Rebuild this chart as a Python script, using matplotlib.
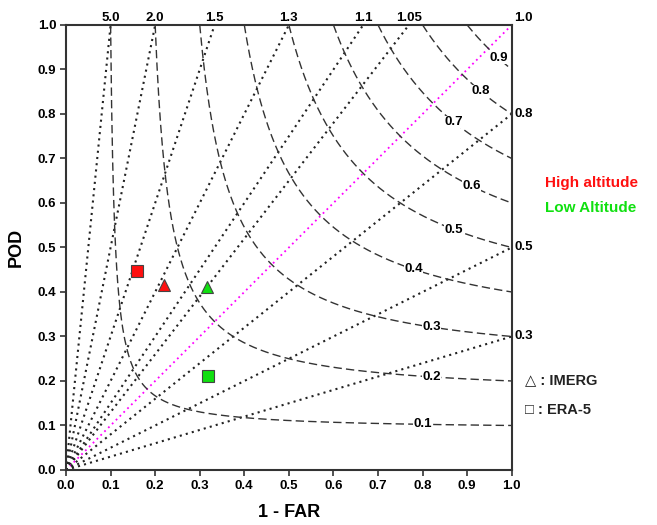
import numpy as np
import matplotlib
matplotlib.use("Agg")
import matplotlib.pyplot as plt

plt.rcParams['font.family'] = ['Liberation Sans', 'DejaVu Sans']
plt.rcParams['font.weight'] = 'bold'

###############################################################################
# Data

# frequency bias lines (POD = bias * SR) and the labels written at their ends
bias_values = [10.0, 5.0, 3.0, 2.0, 1.5, 1.3, 1.0, 0.8, 0.5, 0.3]
top_labels = ["5.0", "2.0", "1.5", "1.3", "1.1", "1.05"]   # as printed on top
right_labels = ["1.0", "0.8", "0.5", "0.3"]

# CSI contours and where their label sits (SR coordinate)
csi_values = [0.1, 0.2, 0.3, 0.4, 0.5, 0.6, 0.7, 0.8, 0.9]
csi_label_sr = [0.80, 0.82, 0.82, 0.78, 0.87, 0.91, 0.87, 0.93, 0.97]

# scores: 1-FAR (success ratio) and POD
regions = ["High altitude", "Low Altitude"]
region_colors = ["#ff1010", "#10e010"]
imerg_sr = [0.220, 0.316]
imerg_pod = [0.416, 0.411]
era5_sr = [0.159, 0.318]
era5_pod = [0.447, 0.211]

###############################################################################
# Figure

fig = plt.figure(figsize=(6.57, 5.25), dpi=100)
ax = fig.add_axes([0.1005, 0.1048, 0.6784, 0.8476])
ax.set_xlim(0, 1)
ax.set_ylim(0, 1)

sr = np.linspace(0.0, 1.0, 400)

# bias lines
for b in bias_values:
    col = "magenta" if b == 1.0 else "#222222"
    lw = 1.3 if b == 1.0 else 1.5
    ax.plot(sr, b * sr, color=col, linestyle=(0, (1, 2)), linewidth=lw,
            zorder=2)

# bias labels on top and right edges
for b, lab in zip(bias_values[:6], top_labels):
    ax.text(1.0 / b, 1.003, lab, ha="center", va="bottom", fontsize=9.5,
            clip_on=False)
for b, lab in zip(bias_values[6:], right_labels):
    dy = 0.015 if b == 1.0 else 0.0
    ax.text(1.006, b + dy, lab, ha="left", va="center", fontsize=9.5,
            clip_on=False)

# CSI contours
for c, lx in zip(csi_values, csi_label_sr):
    x = np.linspace(c, 1.0, 400)
    y = 1.0 / (1.0 / c + 1.0 - 1.0 / x)
    ax.plot(x, y, color="#333333", linestyle=(0, (6, 3)), linewidth=1.0,
            zorder=2)
    ly = 1.0 / (1.0 / c + 1.0 - 1.0 / lx)
    ax.text(lx, ly, "%.1f" % c, ha="center", va="center", fontsize=9.5,
            bbox=dict(facecolor="white", edgecolor="none", pad=0.3), zorder=3)

# points
for i in range(len(regions)):
    ax.plot(imerg_sr[i], imerg_pod[i], marker="^", markersize=9,
            color=region_colors[i], markeredgecolor="#444444",
            markeredgewidth=0.8, linestyle="none", zorder=5)
    ax.plot(era5_sr[i], era5_pod[i], marker="s", markersize=8.5,
            color=region_colors[i], markeredgecolor="#444444",
            markeredgewidth=0.8, linestyle="none", zorder=5)

# axes styling
ticks = np.round(np.arange(0, 1.01, 0.1), 1)
ax.set_xticks(ticks)
ax.set_yticks(ticks)
ax.set_xticklabels(["%.1f" % t for t in ticks], fontsize=9.5)
ax.set_yticklabels(["%.1f" % t for t in ticks], fontsize=9.5)
ax.tick_params(direction="out", length=4, width=1.2, color="#333333",
               pad=3)
for s in ax.spines.values():
    s.set_linewidth(1.5)
    s.set_color("#333333")

ax.set_xlabel("1 - FAR", fontsize=13, fontweight="bold", labelpad=9)
ax.set_ylabel("POD", fontsize=13, fontweight="bold", labelpad=9)

# legend texts
fig.text(0.829, 0.651, regions[0], color=region_colors[0], fontsize=11,
         fontweight="bold", va="center")
fig.text(0.829, 0.604, regions[1], color=region_colors[1], fontsize=11,
         fontweight="bold", va="center")
fig.text(0.799, 0.276, "\u25b3 : IMERG", fontsize=10.5, fontweight="bold",
         va="center", color="#222222")
fig.text(0.799, 0.219, "\u25a1 : ERA-5", fontsize=10.5, fontweight="bold",
         va="center", color="#222222")

fig.savefig("out.png", dpi=100)
